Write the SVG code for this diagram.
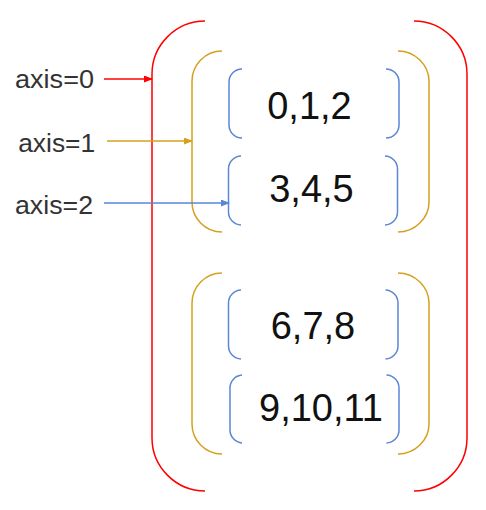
<svg xmlns="http://www.w3.org/2000/svg" width="486" height="510" viewBox="0 0 486 510">
<style>
.br{fill:none;stroke-width:1.5}
.red{stroke:#FF0000}
.gold{stroke:#D4A020}
.blue{stroke:#5B86D6}
.lbl{font-family:"Liberation Sans",Arial,sans-serif;font-size:25px;fill:#333333;text-anchor:middle}
.num{font-family:"Liberation Sans",Arial,sans-serif;font-size:38px;fill:#111111;text-anchor:middle}
</style>
<defs>
<marker id="mr" markerUnits="userSpaceOnUse" markerWidth="9" markerHeight="7" refX="8" refY="3.5" orient="auto"><path d="M0,0 L9,3.5 L0,7 z" fill="#FF0000"/></marker>
<marker id="mg" markerUnits="userSpaceOnUse" markerWidth="9" markerHeight="7" refX="8" refY="3.5" orient="auto"><path d="M0,0 L9,3.5 L0,7 z" fill="#D4A020"/></marker>
<marker id="mb" markerUnits="userSpaceOnUse" markerWidth="9" markerHeight="7" refX="8" refY="3.5" orient="auto"><path d="M0,0 L9,3.5 L0,7 z" fill="#5B86D6"/></marker>
</defs>
<g id="axis0-array">
<path class="br red" d="M205,21 C176,21 152,45 152,74 L152,438 C152,467 176,491 205,491"/>
<path class="br red" d="M414,21 C443,21 467,45 467,74 L467,438 C467,467 443,491 414,491"/>
</g>
<g id="axis1-top">
<path class="br gold" d="M222,51 C205,51 192,65 192,81 L192,202 C192,218 205,232 222,232"/>
<path class="br gold" d="M398,51 C415,51 429,65 429,81 L429,202 C429,218 415,232 398,232"/>
</g>
<g id="axis1-bottom">
<path class="br gold" d="M222,273 C205,273 192,287 192,303 L192,424 C192,440 205,454 222,454"/>
<path class="br gold" d="M398,273 C415,273 429,287 429,303 L429,424 C429,440 415,454 398,454"/>
</g>
<g id="row-012">
<path class="br blue" d="M242,69 A13,13 0 0 0 229,82 L229,125 A13,13 0 0 0 242,138"/>
<path class="br blue" d="M386,69 A13,13 0 0 1 399,82 L399,125 A13,13 0 0 1 386,138"/>
<text class="num" x="309.5" y="119">0,1,2</text>
</g>
<g id="row-345">
<path class="br blue" d="M241,156 A13,13 0 0 0 228.5,169 L228.5,212 A13,13 0 0 0 241,225"/>
<path class="br blue" d="M385,156 A13,13 0 0 1 397.5,169 L397.5,212 A13,13 0 0 1 385,225"/>
<text class="num" x="311.5" y="201.5">3,4,5</text>
</g>
<g id="row-678">
<path class="br blue" d="M241,290 A13,13 0 0 0 228.5,303 L228.5,346 A13,13 0 0 0 241,359"/>
<path class="br blue" d="M385.5,290 A13,13 0 0 1 398,303 L398,346 A13,13 0 0 1 385.5,359"/>
<text class="num" x="313" y="338.5">6,7,8</text>
</g>
<g id="row-91011">
<path class="br blue" d="M242,375 A13,13 0 0 0 230,388 L230,430 A13,13 0 0 0 242,443"/>
<path class="br blue" d="M386.5,375 A13,13 0 0 1 399,388 L399,430 A13,13 0 0 1 386.5,443"/>
<text class="num" x="321" y="420.5">9,10,11</text>
</g>
<g id="labels">
<text class="lbl" x="54.5" y="88" textLength="79" lengthAdjust="spacingAndGlyphs">axis=0</text>
<text class="lbl" x="56.7" y="151.5" textLength="77" lengthAdjust="spacingAndGlyphs">axis=1</text>
<text class="lbl" x="54" y="213.5" textLength="78" lengthAdjust="spacingAndGlyphs">axis=2</text>
</g>
<g id="connectors">
<line x1="104" y1="79" x2="152" y2="79" stroke="#FF0000" stroke-width="1.3" marker-end="url(#mr)"/>
<line x1="107" y1="141" x2="192" y2="141" stroke="#D4A020" stroke-width="1.3" marker-end="url(#mg)"/>
<line x1="104" y1="203" x2="229" y2="203" stroke="#5B86D6" stroke-width="1.3" marker-end="url(#mb)"/>
</g>
</svg>
